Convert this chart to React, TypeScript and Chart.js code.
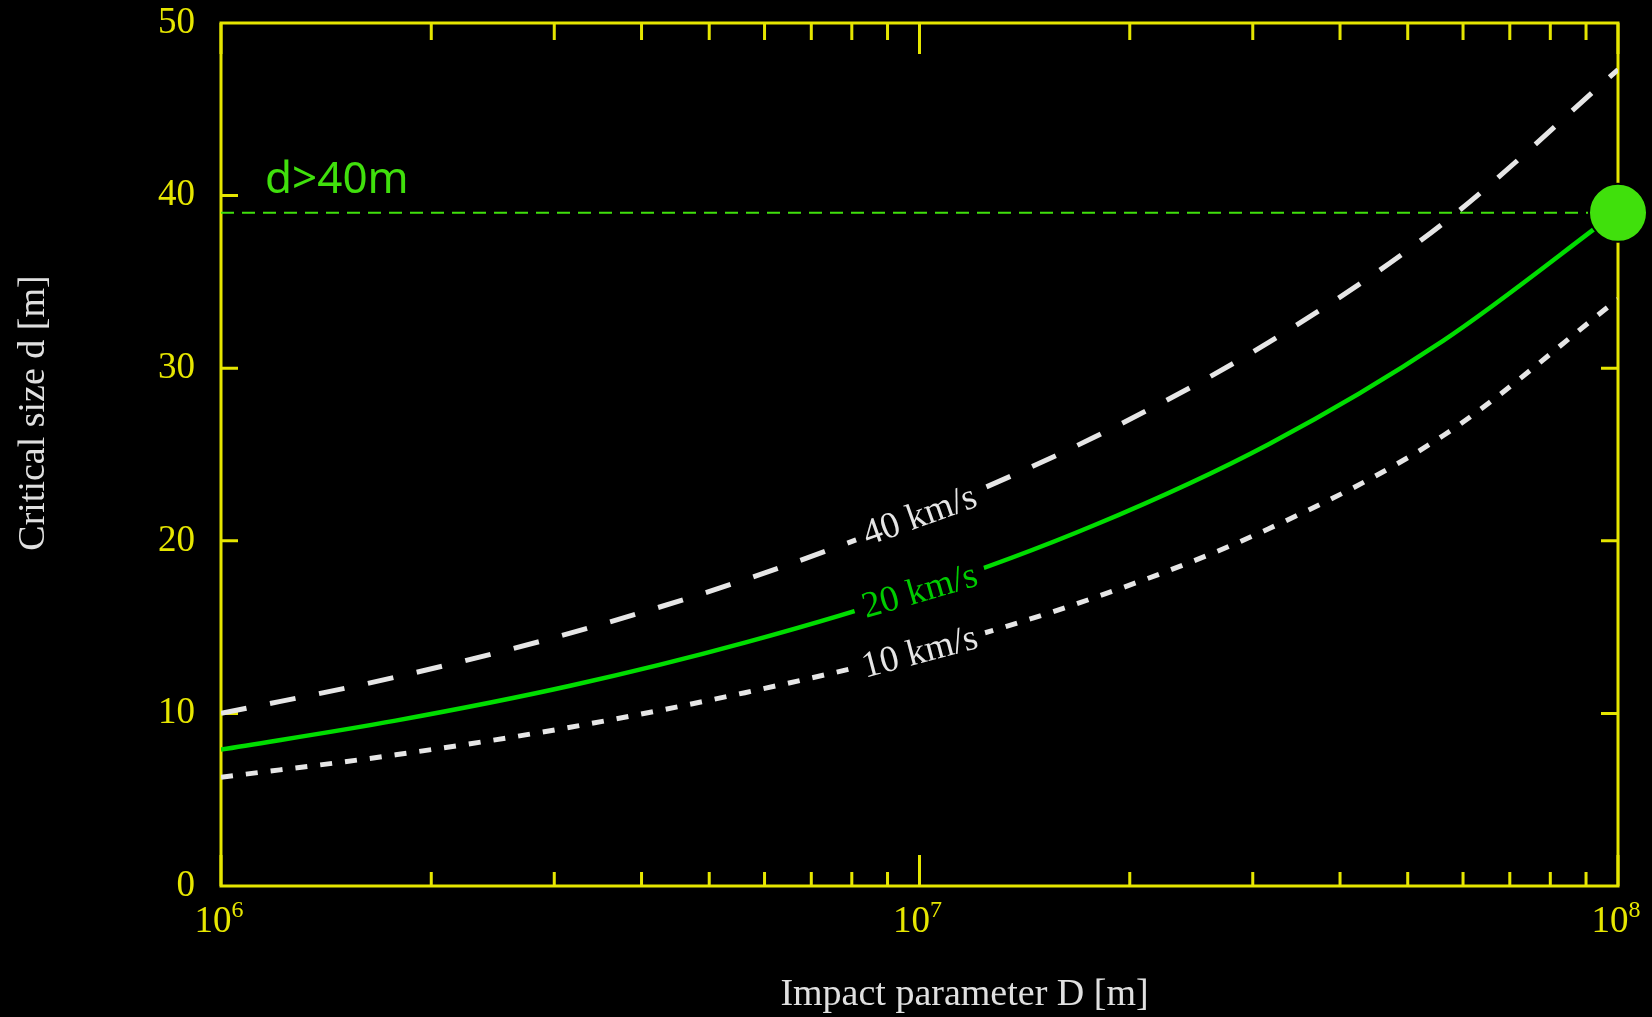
import React, { useEffect, useRef } from 'react';
import { Chart, registerables } from 'chart.js';

Chart.register(...registerables);

// ---- data ----
const impactParams = [1e6, 1.778e6, 3.162e6, 5.623e6, 1e7, 1.778e7, 3.162e7, 5.623e7, 1e8];
const size40 = [10.0, 12.1, 14.65, 17.75, 21.5, 26.0, 31.5, 38.4, 47.3];
const size20 = [7.9, 9.58, 11.6, 14.1, 17.13, 20.9, 25.6, 31.6, 39.1];
const size10 = [6.3, 7.6, 9.2, 11.2, 13.6, 16.7, 20.7, 26.1, 34.0];
const seriesLabels = ['40 km/s', '20 km/s', '10 km/s'];
const labelImpactParam = 1e7;
const thresholdSize = 39;
const thresholdText = 'd>40m';
const yTickValues = [0, 10, 20, 30, 40, 50];
const yMarkValues = [10, 20, 30, 40];
const xMajorTicks = [1e6, 1e7, 1e8];
const xMajorBase = ['10', '10', '10'];
const xMajorExponents = ['6', '7', '8'];
const xMinorTicks = [2e6, 3e6, 4e6, 5e6, 6e6, 7e6, 8e6, 9e6, 2e7, 3e7, 4e7, 5e7, 6e7, 7e7, 8e7, 9e7];
const xTitle = 'Impact parameter D [m]';
const yTitle = 'Critical size d [m]';

// ---- styles ----
const YELLOW = '#e6e600';
const WHITE = '#e6e6e6';
const GREEN = '#00dd00';
const BRIGHT_GREEN = '#40e00c';

const toPoints = (ys: number[]) => impactParams.map((x, i) => ({ x, y: ys[i] }));

const decorPlugin = {
  id: 'decor',
  beforeDraw(chart: any) {
    const ctx = chart.ctx;
    ctx.save();
    ctx.fillStyle = '#000';
    ctx.fillRect(0, 0, chart.width, chart.height);
    ctx.restore();
  },
  beforeDatasetsDraw(chart: any) {
    const { ctx, chartArea } = chart;
    const { left, right, top, bottom } = chartArea;
    const xs = chart.scales.x;
    const ys = chart.scales.y;
    ctx.save();
    ctx.strokeStyle = YELLOW;
    ctx.lineWidth = 3;
    ctx.strokeRect(left, top, right - left, bottom - top);
    ctx.beginPath();
    yMarkValues.forEach((v) => {
      const py = ys.getPixelForValue(v);
      ctx.moveTo(left, py);
      ctx.lineTo(left + 17, py);
      ctx.moveTo(right, py);
      ctx.lineTo(right - 17, py);
    });
    xMajorTicks.forEach((v) => {
      const px = xs.getPixelForValue(v);
      ctx.moveTo(px, bottom);
      ctx.lineTo(px, bottom - 31);
      ctx.moveTo(px, top);
      ctx.lineTo(px, top + 31);
    });
    xMinorTicks.forEach((v) => {
      const px = xs.getPixelForValue(v);
      ctx.moveTo(px, bottom);
      ctx.lineTo(px, bottom - 14);
      ctx.moveTo(px, top);
      ctx.lineTo(px, top + 17);
    });
    ctx.stroke();

    // x tick labels with superscripts
    ctx.fillStyle = YELLOW;
    ctx.textBaseline = 'alphabetic';
    ctx.textAlign = 'left';
    xMajorTicks.forEach((v, i) => {
      const px = xs.getPixelForValue(v);
      ctx.font = '37px "Liberation Serif", serif';
      const wb = ctx.measureText(xMajorBase[i]).width;
      ctx.font = '24px "Liberation Serif", serif';
      const we = ctx.measureText(xMajorExponents[i]).width;
      const start = px - (wb + we) / 2 - 2;
      ctx.font = '37px "Liberation Serif", serif';
      ctx.fillText(xMajorBase[i], start, 932);
      ctx.font = '24px "Liberation Serif", serif';
      ctx.fillText(xMajorExponents[i], start + wb, 917);
    });

    // axis titles
    ctx.fillStyle = '#e0e0e0';
    ctx.font = '38px "Liberation Serif", serif';
    ctx.textAlign = 'center';
    ctx.fillText(xTitle, (left + right) / 2 + 45, 1005);
    ctx.save();
    ctx.translate(44, 413);
    ctx.rotate(-Math.PI / 2);
    ctx.font = '38px "Liberation Serif", serif';
    ctx.fillText(yTitle, 0, 0);
    ctx.restore();

    // threshold text
    ctx.fillStyle = BRIGHT_GREEN;
    ctx.font = '44px "Noto Sans", sans-serif';
    ctx.textAlign = 'left';
    ctx.fillText(thresholdText, 265, 193);
    ctx.restore();
  },
  afterDatasetsDraw(chart: any) {
    const { ctx } = chart;
    const xs = chart.scales.x;
    const ys = chart.scales.y;
    const idx = impactParams.indexOf(labelImpactParam);
    const series = [size40, size20, size10];
    const colors = [WHITE, '#00cc00', WHITE];
    const angles = [-19.7, -16.2, -14.8];
    ctx.save();
    ctx.font = '37px "Liberation Serif", serif';
    series.forEach((s, i) => {
      const px = xs.getPixelForValue(labelImpactParam);
      const py = ys.getPixelForValue(s[idx]);
      ctx.save();
      ctx.translate(px, py);
      ctx.rotate((angles[i] * Math.PI) / 180);
      const w = ctx.measureText(seriesLabels[i]).width;
      ctx.fillStyle = '#000';
      ctx.fillRect(-w / 2 - 9, -14, w + 18, 28);
      ctx.fillStyle = colors[i];
      ctx.textAlign = 'center';
      ctx.textBaseline = 'middle';
      ctx.fillText(seriesLabels[i], 0, 2);
      ctx.restore();
    });
    ctx.restore();
  },
};

export default function App() {
  const canvasRef = useRef<HTMLCanvasElement | null>(null);

  useEffect(() => {
    if (!canvasRef.current) return;
    const chart = new Chart(canvasRef.current, {
      type: 'line',
      data: {
        datasets: [
          {
            label: 'threshold point',
            data: [{ x: impactParams[impactParams.length - 1], y: thresholdSize }],
            showLine: false,
            pointRadius: 29,
            pointBackgroundColor: BRIGHT_GREEN,
            pointBorderColor: '#000',
            pointBorderWidth: 2,
            clip: false,
          } as any,
          {
            label: 'threshold',
            data: [
              { x: impactParams[0], y: thresholdSize },
              { x: impactParams[impactParams.length - 1], y: thresholdSize },
            ],
            borderColor: BRIGHT_GREEN,
            borderWidth: 2,
            borderDash: [13, 8],
            pointRadius: 0,
          },
          {
            label: seriesLabels[0],
            data: toPoints(size40),
            borderColor: WHITE,
            borderWidth: 5,
            borderDash: [26, 24],
            pointRadius: 0,
            cubicInterpolationMode: 'monotone',
          },
          {
            label: seriesLabels[1],
            data: toPoints(size20),
            borderColor: GREEN,
            borderWidth: 4.5,
            pointRadius: 0,
            cubicInterpolationMode: 'monotone',
          },
          {
            label: seriesLabels[2],
            data: toPoints(size10),
            borderColor: WHITE,
            borderWidth: 5,
            borderDash: [12, 13],
            pointRadius: 0,
            cubicInterpolationMode: 'monotone',
          },
        ],
      },
      options: {
        animation: false,
        responsive: false,
        devicePixelRatio: 1,
        layout: { autoPadding: false, padding: { top: 23, right: 34, left: 0, bottom: 0 } },
        plugins: { legend: { display: false }, tooltip: { enabled: false } },
        scales: {
          x: {
            type: 'logarithmic',
            min: 1e6,
            max: 1e8,
            grid: { display: false, drawTicks: false },
            border: { display: false },
            ticks: { display: false },
            afterFit: (s: any) => {
              s.height = 131;
              s.paddingLeft = 0;
              s.paddingRight = 0;
            },
          },
          y: {
            min: 0,
            max: 50,
            afterBuildTicks: (s: any) => {
              s.ticks = yTickValues.map((v) => ({ value: v }));
            },
            grid: { display: false, drawTicks: false },
            border: { display: false },
            ticks: {
              color: YELLOW,
              font: { family: '"Liberation Serif", serif', size: 37 },
              padding: 26,
            },
            afterFit: (s: any) => {
              s.width = 221;
              s.paddingTop = 0;
              s.paddingBottom = 0;
            },
          },
        },
      } as any,
      plugins: [decorPlugin],
    });
    return () => chart.destroy();
  }, []);

  return (
    <div style={{ position: 'fixed', left: 0, top: 0, width: 1652, height: 1017, background: '#000' }}>
      <canvas ref={canvasRef} width={1652} height={1017} style={{ display: 'block' }} />
    </div>
  );
}
